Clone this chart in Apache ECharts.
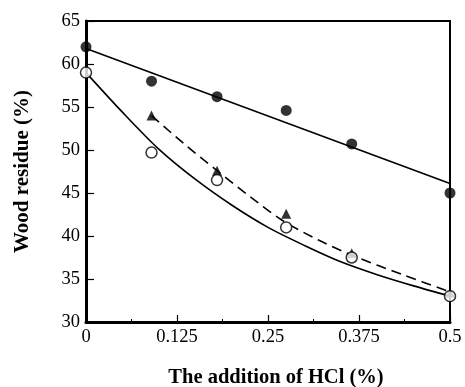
<!DOCTYPE html>
<html><head><meta charset="utf-8">
<script src="https://cdn.jsdelivr.net/npm/echarts@6/dist/echarts.min.js"></script>
<style>html,body{margin:0;padding:0;background:#fff}#c{width:465px;height:387px}</style>
</head><body><div id="c"></div>
<script>
// Measured points
const xPts = [0, 0.09, 0.18, 0.275, 0.365, 0.5];
const filledCircle = [62, 58, 56.2, 54.6, 50.7, 45];
const openCircle = [59, 49.7, 46.5, 41, 37.5, 33];
const xTri = [0.09, 0.18, 0.275, 0.365, 0.5];
const triangle = [54, 47.6, 42.6, 38, 33.4];
// Fitted lines
const xLinear = [0, 0.5];
const yLinear = [61.8, 46.1];
const xSolidCurve = [0, 0.05, 0.1, 0.15, 0.2, 0.25, 0.3, 0.35, 0.4, 0.45, 0.5];
const ySolidCurve = [59, 54.4, 50.1, 46.6, 43.6, 41.0, 38.9, 37.0, 35.5, 34.2, 33.0];
const xDashCurve = [0.09, 0.135, 0.18, 0.225, 0.27, 0.32, 0.37, 0.435, 0.5];
const yDashCurve = [54, 50.7, 47.6, 44.6, 41.8, 39.5, 37.6, 35.5, 33.5];
const xTicks = [0, 0.125, 0.25, 0.375, 0.5];
const xTickLabels = ['0', '0.125', '0.25', '0.375', '0.5'];

const zip = (xs, ys) => xs.map((x, i) => [x, ys[i]]);
const font = '"Liberation Serif", "DejaVu Serif", serif';
const chart = echarts.init(document.getElementById('c'));
chart.setOption({
  animation: false,
  backgroundColor: '#fff',
  grid: {left: 86, right: 15, top: 21, bottom: 65, containLabel: false, outerBoundsMode: 'none',
    show: true, borderColor: '#000', borderWidth: 2, backgroundColor: 'transparent'},
  xAxis: {
    type: 'value', min: 0, max: 0.5, interval: 0.125,
    name: 'The addition of HCl (%)', nameLocation: 'middle', nameGap: 45,
    nameTextStyle: {fontFamily: font, fontWeight: 'bold', fontSize: 20.5, color: '#000', padding: [0, 0, 0, 16]},
    axisLine: {show: true, onZero: false, lineStyle: {color: '#000', width: 3}},
    axisTick: {inside: true, length: 7, lineStyle: {color: '#000', width: 1.2}},
    minorTick: {show: true, splitNumber: 2, length: 3, lineStyle: {color: '#000', width: 1}},
    splitLine: {show: false},
    axisLabel: {fontFamily: font, fontSize: 18.5, color: '#000', margin: 6,
      formatter: v => { const i = xTicks.findIndex(t => Math.abs(t - v) < 1e-9); return i >= 0 ? xTickLabels[i] : ''; }}
  },
  yAxis: {
    type: 'value', min: 30, max: 65, interval: 5,
    name: 'Wood residue (%)', nameLocation: 'middle', nameGap: 53, nameRotate: 90,
    nameTextStyle: {fontFamily: font, fontWeight: 'bold', fontSize: 21, color: '#000'},
    axisLine: {show: true, onZero: false, lineStyle: {color: '#000', width: 3}},
    axisTick: {inside: true, length: 8, lineStyle: {color: '#000', width: 1.2}},
    splitLine: {show: false},
    axisLabel: {fontFamily: font, fontSize: 18.5, color: '#000', margin: 6}
  },
  series: [
    {type: 'line', data: zip(xLinear, yLinear), showSymbol: false, symbol: 'none',
     lineStyle: {color: '#000', width: 1.6}, z: 2},
    {type: 'line', data: zip(xSolidCurve, ySolidCurve), smooth: 0.3, symbol: 'none',
     lineStyle: {color: '#000', width: 1.6}, z: 2},
    {type: 'line', data: zip(xDashCurve, yDashCurve), smooth: 0.3, symbol: 'none',
     lineStyle: {color: '#000', width: 1.6, type: [10, 6]}, z: 2},
    {type: 'scatter', data: zip(xPts, filledCircle), symbol: 'circle', symbolSize: 11,
     itemStyle: {color: '#000'}, z: 5},
    {type: 'scatter', data: zip(xPts, openCircle), symbol: 'circle', symbolSize: 11,
     itemStyle: {color: '#fff', borderColor: '#000', borderWidth: 1.5}, z: 6},
    {type: 'scatter', data: zip(xTri, triangle), symbol: 'triangle', symbolSize: 10,
     itemStyle: {color: '#000'}, z: 5}
  ]
});
</script></body></html>
